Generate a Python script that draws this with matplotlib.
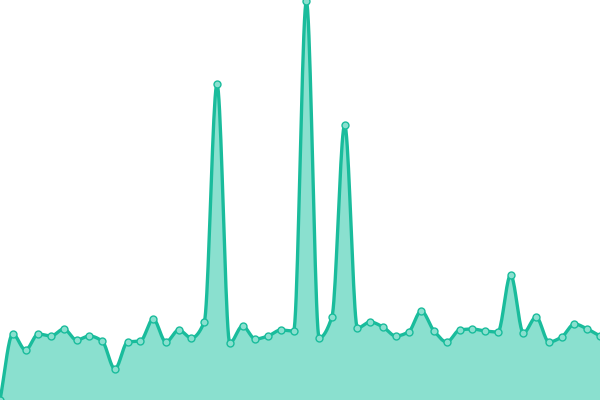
import numpy as np
import matplotlib
matplotlib.use("Agg")
import matplotlib.pyplot as plt

# heights of the 48 points (chart units, 0..400)
values = [0, 66, 50, 66, 64, 71, 60, 64, 59, 31, 58, 59, 81, 58, 70, 62,
          78, 316, 57, 74, 61, 64, 70, 69, 399, 62, 83, 275, 72, 78, 73, 64,
          68, 89, 69, 58, 70, 71, 69, 68, 125, 67, 83, 58, 63, 76, 71, 64]

LINE = "#1abc9c"
FILL = "#8ae0cf"


def monotone_curve(x, y, n=20):
    '''monotone cubic (Fritsch-Carlson) between the given points.'''
    x = np.asarray(x, float)
    y = np.asarray(y, float)
    h = np.diff(x)
    d = np.diff(y) / h
    m = np.zeros_like(y)
    m[0], m[-1] = d[0], d[-1]
    for k in range(1, len(y) - 1):
        if d[k - 1] * d[k] > 0:
            m[k] = 3 * (h[k - 1] + h[k]) / ((2 * h[k] + h[k - 1]) / d[k - 1] + (h[k] + 2 * h[k - 1]) / d[k])
    xs, ys = [], []
    for k in range(len(h)):
        t = np.linspace(0, 1, n, endpoint=False)
        h00 = 2 * t**3 - 3 * t**2 + 1
        h10 = t**3 - 2 * t**2 + t
        h01 = -2 * t**3 + 3 * t**2
        h11 = t**3 - t**2
        xs.append(x[k] + t * h[k])
        ys.append(h00 * y[k] + h10 * h[k] * m[k] + h01 * y[k + 1] + h11 * h[k] * m[k + 1])
    xs.append([x[-1]])
    ys.append([y[-1]])
    return np.concatenate(xs), np.concatenate(ys)


x = np.arange(len(values))
cx, cy = monotone_curve(x, values)

fig = plt.figure(figsize=(6, 4), dpi=100)
ax = fig.add_axes([0, 0, 1, 1])
ax.fill_between(cx, 0, cy, color=FILL, lw=0)
ax.plot(cx, cy, color=LINE, lw=2.4, solid_capstyle="round")
ax.plot(x, values, "o", ms=5, mfc=FILL, mec=LINE, mew=1.0)
ax.set_xlim(0, len(values) - 1)
ax.set_ylim(0, 400)
ax.axis("off")
fig.savefig("out.png", dpi=100)
